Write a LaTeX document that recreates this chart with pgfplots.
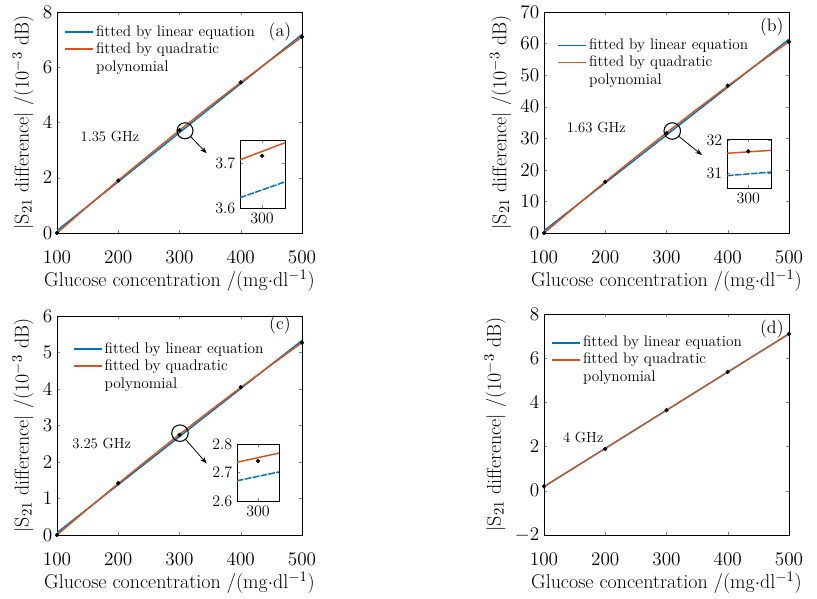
\documentclass[border=0pt]{standalone}
\usepackage{pgfplots}
\pgfplotsset{compat=1.18}
\usetikzlibrary{arrows.meta}

\definecolor{mblue}{RGB}{0,114,189}
\definecolor{morange}{RGB}{217,83,25}

\tikzset{
  lin/.style={draw=mblue, line width=1.1pt},
  quad/.style={draw=morange, line width=1.1pt},
}
\newcommand{\quadentry}{\begin{tabular}[t]{@{}l@{}}fitted by quadratic\\polynomial\end{tabular}}
\pgfplotsset{
  mainax/.style={
    scale only axis, width=183.75pt,
    xmin=100, xmax=500, xtick={100,200,...,500},
    tick align=inside, major tick length=2.5pt,
    axis line style={line width=0.6pt},
    tick label style={font=\fontsize{15}{15}\selectfont},
    xticklabel style={yshift=-10pt},
    label style={font=\fontsize{15}{18}\selectfont},
    xlabel style={yshift=1.5pt},
    xlabel={Glucose concentration /(mg$\cdot$dl$^{-1}$)},
    ylabel={$|$S$_{21}$ difference$|$ /(10$^{-3}$ dB)},
    legend style={draw=none, fill=none, anchor=north west, inner sep=0pt,
      font=\fontsize{11.5}{13.5}\selectfont, nodes={inner sep=1.5pt},
      cells={anchor=base west}, row sep=-1.2pt},
    legend image code/.code={\draw[#1] (0pt,3pt) -- (21pt,3pt);},
  },
  inset/.style={
    scale only axis, tick align=inside, major tick length=2pt,
    axis line style={line width=0.6pt},
    tick label style={font=\fontsize{12}{12}\selectfont},
    xtick={300}, axis background/.style={fill=white},
  },
  dots/.style={only marks, mark=*, mark size=1.4pt, black},
}

\begin{document}
\begin{tikzpicture}
\path[use as bounding box] (0,0) rectangle (612.75pt,449.25pt);

% (a) 1.35 GHz
\begin{axis}[mainax, at={(42.75pt,274.5pt)}, anchor=south west, height=165.75pt,
  ymin=0, ymax=8, ytick={0,2,...,8}, legend style={at={(0.03,0.95)}}]
\addplot[lin] coordinates {(100,0.084) (500,7.184)};
\addlegendentry{fitted by linear equation}
\addplot[quad] coordinates {(100,0.000) (150,0.961) (200,1.901) (250,2.820) (300,3.718)
  (350,4.595) (400,5.451) (450,6.286) (500,7.100)};
\addlegendentry{\quadentry}
\addplot[dots, forget plot] coordinates {(100,0) (200,1.9) (300,3.72) (400,5.45) (500,7.1)};
\node[font=\fontsize{11}{13}\selectfont] at (axis cs:186.5,3.51) {1.35 GHz};
\node[font=\fontsize{13.5}{15}\selectfont] at (axis description cs:0.91,0.91) {(a)};
\draw[line width=0.8pt] (axis cs:309,3.70) circle[radius=6pt];
\draw[line width=0.6pt, -{Stealth[length=5pt]}, shorten <=6pt] (axis cs:309,3.70) -- (axis cs:344.4,2.885);
\end{axis}
\begin{axis}[inset, at={(180pt,293.25pt)}, anchor=south west, width=33.75pt, height=51pt,
  xmin=298.97, xmax=301.07, ymin=3.6, ymax=3.751, ytick={3.6,3.7}]
\addplot[lin, dash pattern=on 5pt off 1pt] coordinates {(298.97,3.623) (301.07,3.658)};
\addplot[quad] coordinates {(298.97,3.707) (301.07,3.745)};
\addplot[dots] coordinates {(300,3.716)};
\end{axis}

% (b) 1.63 GHz
\begin{axis}[mainax, at={(408pt,274.5pt)}, anchor=south west, height=165.75pt,
  ymin=0, ymax=70, ytick={0,10,...,70}, legend style={at={(0.055,0.89)}}]
\addplot[lin] coordinates {(100,0.694) (500,61.374)};
\addlegendentry{fitted by linear equation}
\addplot[quad] coordinates {(100,-0.03) (150,8.189) (200,16.224) (250,24.079) (300,31.754)
  (350,39.249) (400,46.564) (450,53.699) (500,60.654)};
\addlegendentry{\quadentry}
\addplot[dots, forget plot] coordinates {(100,0) (200,16.2) (300,31.67) (400,46.7) (500,60.6)};
\node[font=\fontsize{11}{13}\selectfont] at (axis cs:185.4,33.5) {1.63 GHz};
\node[font=\fontsize{13.5}{15}\selectfont] at (axis description cs:0.93,0.93) {(b)};
\draw[line width=0.8pt] (axis cs:309.4,32.3) circle[radius=6.2pt];
\draw[line width=0.6pt, -{Stealth[length=5pt]}, shorten <=6.2pt] (axis cs:309.4,32.3) -- (axis cs:357.9,24.7);
\end{axis}
\begin{axis}[inset, at={(545.25pt,308.25pt)}, anchor=south west, width=33pt, height=36.75pt,
  xmin=299.71, xmax=300.31, ymin=30.54, ymax=32.05, ytick={31,32}]
\addplot[lin, dash pattern=on 5pt off 1pt] coordinates {(299.71,30.92) (300.31,31.03)};
\addplot[quad] coordinates {(299.71,31.61) (300.31,31.70)};
\addplot[dots] coordinates {(300,31.67)};
\end{axis}

% (c) 3.25 GHz
\begin{axis}[mainax, at={(42.75pt,48pt)}, anchor=south west, height=164.25pt,
  ymin=0, ymax=6, ytick={0,1,...,6}, legend style={at={(0.065,0.89)}}]
\addplot[lin] coordinates {(100,0.062) (500,5.330)};
\addlegendentry{fitted by linear equation}
\addplot[quad] coordinates {(100,0.003) (150,0.713) (200,1.408) (250,2.089) (300,2.755)
  (350,3.406) (400,4.042) (450,4.664) (500,5.271)};
\addlegendentry{\quadentry}
\addplot[dots, forget plot] coordinates {(100,0) (200,1.42) (300,2.74) (400,4.05) (500,5.27)};
\node[font=\fontsize{11}{13}\selectfont] at (axis cs:173,2.51) {3.25 GHz};
\node[font=\fontsize{13.5}{15}\selectfont] at (axis description cs:0.91,0.96) {(c)};
\draw[line width=0.8pt] (axis cs:300.8,2.79) circle[radius=6.2pt];
\draw[line width=0.6pt, -{Stealth[length=5pt]}, shorten <=6.2pt] (axis cs:300.8,2.79) -- (axis cs:344.4,1.96);
\end{axis}
\begin{axis}[inset, at={(177.75pt,73.5pt)}, anchor=south west, width=31.5pt, height=42.75pt,
  xmin=298.8, xmax=301.2, ymin=2.6, ymax=2.8, ytick={2.6,2.7,2.8}]
\addplot[lin, dash pattern=on 5pt off 1pt] coordinates {(298.8,2.671) (301.2,2.702)};
\addplot[quad] coordinates {(298.8,2.736) (301.2,2.768)};
\addplot[dots] coordinates {(300,2.74)};
\end{axis}

% (d) 4 GHz
\begin{axis}[mainax, at={(408pt,48pt)}, anchor=south west, height=165.75pt,
  ymin=-2, ymax=8, ytick={-2,0,...,8}, legend style={at={(0.03,0.91)}}]
\addplot[lin] coordinates {(100,0.19) (500,7.102)};
\addlegendentry{fitted by linear equation}
\addplot[quad, line width=0.9pt] coordinates {(100,0.19) (500,7.10)};
\addlegendentry{\quadentry}
\addplot[dots, forget plot] coordinates {(100,0.2) (200,1.9) (300,3.65) (400,5.38) (500,7.1)};
\node[font=\fontsize{11}{13}\selectfont] at (axis cs:164,2.42) {4 GHz};
\node[font=\fontsize{13.5}{15}\selectfont] at (axis description cs:0.93,0.93) {(d)};
\end{axis}
\end{tikzpicture}
\end{document}
